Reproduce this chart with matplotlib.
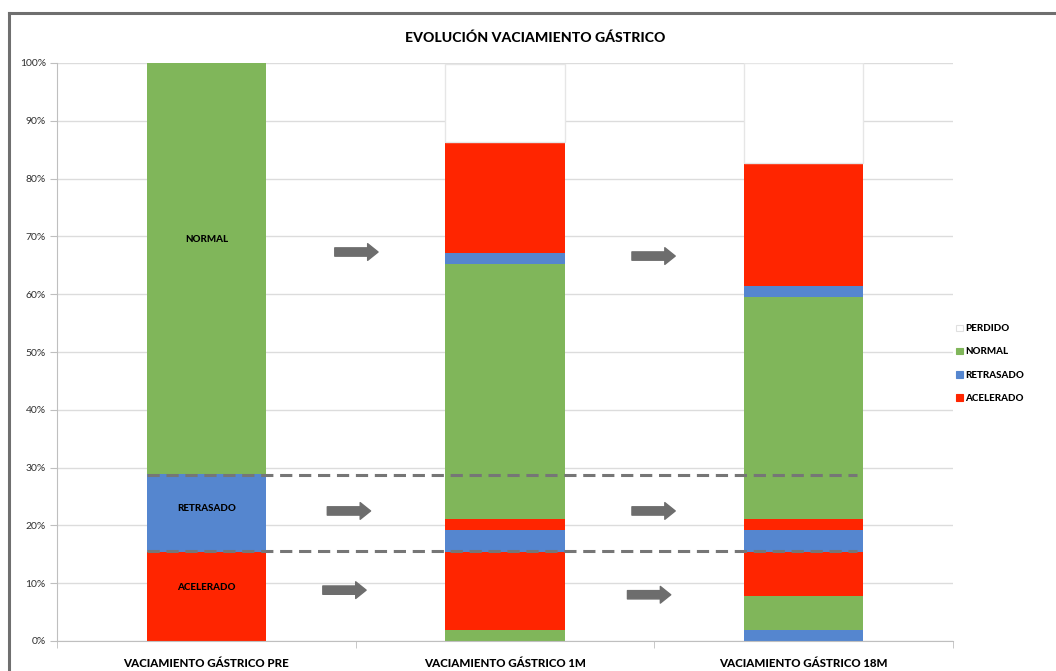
import matplotlib.pyplot as plt
from matplotlib.patches import Patch
from matplotlib.lines import Line2D
import numpy as np

plt.rcParams['font.family'] = ['Lato', 'DejaVu Sans']

# datos (% de pacientes)
categorias = ['VACIAMIENTO GÁSTRICO PRE', 'VACIAMIENTO GÁSTRICO 1M', 'VACIAMIENTO GÁSTRICO 18M']

estados_pre = ['ACELERADO', 'RETRASADO', 'NORMAL']
valores_pre = [15.4, 13.5, 71.1]

estados_1m = ['NORMAL', 'ACELERADO', 'RETRASADO', 'ACELERADO', 'NORMAL', 'RETRASADO', 'ACELERADO', 'PERDIDO']
valores_1m = [1.9, 13.5, 3.8, 1.9, 44.2, 1.9, 19.2, 13.5]

estados_18m = ['RETRASADO', 'NORMAL', 'ACELERADO', 'RETRASADO', 'ACELERADO', 'NORMAL', 'RETRASADO', 'ACELERADO', 'PERDIDO']
valores_18m = [1.9, 5.8, 7.7, 3.8, 1.9, 38.5, 1.9, 21.2, 17.3]

etiquetas_pre = ['NORMAL', 'RETRASADO', 'ACELERADO']
pos_etiquetas_pre = [69.4, 23.0, 9.2]

lineas_ref = [28.7, 15.6]

# flechas (x inicio, x fin, y)
flechas_x0 = [0.43, 1.425, 0.405, 1.425, 0.39, 1.41]
flechas_x1 = [0.575, 1.57, 0.55, 1.57, 0.535, 1.555]
flechas_y = [67.3, 66.6, 22.5, 22.5, 8.8, 8.0]

leyenda = ['PERDIDO', 'NORMAL', 'RETRASADO', 'ACELERADO']

colores = {'ACELERADO': '#ff2500', 'RETRASADO': '#5586cf', 'NORMAL': '#80b65a', 'PERDIDO': '#ffffff'}

fig = plt.figure(figsize=(10.56, 6.71), dpi=100)
ax = fig.add_axes([57/1056, 1-641/671, (953-57)/1056, (641-63)/671])

ancho = 0.4
for i, (estados, valores) in enumerate([(estados_pre, valores_pre), (estados_1m, valores_1m), (estados_18m, valores_18m)]):
    base = 0
    for est, v in zip(estados, valores):
        if est == 'PERDIDO':
            ax.bar(i, v, ancho, bottom=base, color='white', edgecolor='#e6e6e6', linewidth=1, zorder=2)
        else:
            ax.bar(i, v, ancho, bottom=base, color=colores[est], linewidth=0, zorder=2)
        base += v

for t, y in zip(etiquetas_pre, pos_etiquetas_pre):
    ax.text(0, y, t, ha='center', va='center', fontsize=7, fontweight='black', zorder=4)

for y in lineas_ref:
    ax.plot([-0.2, 2.18], [y, y], color='#767676', linestyle=(0, (4, 2.2)), linewidth=2.2, zorder=3)

for x0, x1, y in zip(flechas_x0, flechas_x1, flechas_y):
    ax.annotate('', xy=(x1, y), xytext=(x0, y),
                arrowprops=dict(arrowstyle='simple,head_width=1.2,head_length=0.75,tail_width=0.6',
                                mutation_scale=10, color='#6d6d6d', shrinkA=0, shrinkB=0), zorder=4)

ax.set_xlim(-0.5, 2.5)
ax.set_ylim(0, 100)
ax.set_yticks(np.arange(0, 101, 10))
ax.set_yticklabels([f'{v}%' for v in range(0, 101, 10)], fontsize=7.5, color='#303030')
ax.yaxis.grid(True, color='#dcdcdc', linewidth=1)
ax.set_axisbelow(True)
ax.set_xticks([0, 1, 2])
ax.set_xticklabels(categorias, fontsize=8.3, fontweight='black')
ax.set_xticks([-0.5, 0.5, 1.5, 2.5], minor=True)
ax.tick_params(axis='x', which='major', length=0, pad=12)
ax.tick_params(axis='x', which='minor', length=5, color='#bfbfbf')
ax.tick_params(axis='y', length=5, color='#bfbfbf', pad=3)
for s in ['top', 'right']:
    ax.spines[s].set_visible(False)
ax.spines['left'].set_color('#bfbfbf')
ax.spines['bottom'].set_color('#bfbfbf')

fig.text(535/1056, 1-38/671, 'EVOLUCIÓN VACIAMIENTO GÁSTRICO', ha='center', va='center',
         fontsize=10.1, fontweight='black')

handles = [Patch(facecolor=colores[e], edgecolor='#e0e0e0' if e == 'PERDIDO' else colores[e], linewidth=0.8) for e in leyenda]
leg = fig.legend(handles, leyenda, loc='center left', bbox_to_anchor=(947/1056, 1-363.5/671),
                 frameon=False, fontsize=7, handlelength=0.7, handleheight=0.7, handletextpad=0.3,
                 labelspacing=1.45)
for t in leg.get_texts():
    t.set_fontweight('black')

# borde del grafico
fig.add_artist(Line2D([9/1056, 1], [1-13/671, 1-13/671], color='#6f6f6f', linewidth=2.2))
fig.add_artist(Line2D([9/1056, 9/1056], [0, 1-13/671], color='#6f6f6f', linewidth=2.2))

fig.savefig('out.png', dpi=100)
